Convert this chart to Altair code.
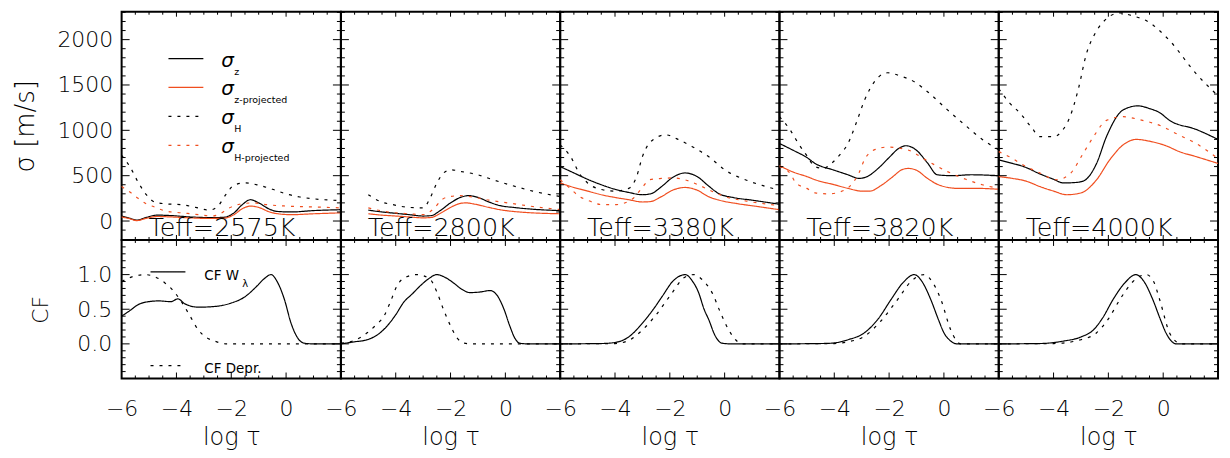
import altair as alt
import pandas as pd

FONT = "DejaVu Sans"
RED = "#f04e1f"

teff_labels = ["Teff=2575K", "Teff=2800K", "Teff=3380K", "Teff=3820K", "Teff=4000K"]

# ---------------- sigma curves (log tau, m/s) ----------------
# Teff = 2575 K
sz_2575_x = [-6, -5.7, -5.45, -5.1, -4.7, -4.2, -3.5, -2.8, -2.3, -1.9, -1.6, -1.3, -1.0, -0.6, -0.3, 0.2, 1.0, 2.0]
sz_2575_y = [55, 30, 10, 40, 65, 60, 45, 38, 40, 90, 180, 235, 200, 130, 105, 100, 115, 125]
szp_2575_x = [-6, -5.7, -5.45, -5.1, -4.7, -4.2, -3.5, -2.8, -2.3, -1.9, -1.6, -1.3, -1.0, -0.6, -0.3, 0.2, 1.0, 2.0]
szp_2575_y = [45, 25, 5, 30, 50, 45, 35, 28, 30, 70, 135, 165, 150, 100, 80, 70, 80, 90]
sh_2575_x = [-6, -5.7, -5.4, -5.1, -4.8, -4.4, -3.8, -3.3, -2.8, -2.5, -2.2, -1.9, -1.5, -1.0, -0.5, 0.0, 0.5, 1.0, 2.0]
sh_2575_y = [725, 600, 430, 290, 210, 190, 180, 150, 120, 160, 290, 395, 420, 395, 350, 300, 265, 245, 225]
shp_2575_x = [-6, -5.7, -5.4, -5.1, -4.8, -4.4, -3.8, -3.2, -2.7, -2.4, -2.1, -1.7, -1.2, -0.7, 0.0, 1.0, 2.0]
shp_2575_y = [380, 320, 250, 190, 155, 110, 90, 70, 55, 80, 140, 185, 200, 180, 165, 155, 145]

# Teff = 2800 K
sz_2800_x = [-5, -4.5, -4, -3.5, -3.0, -2.7, -2.4, -2.0, -1.6, -1.35, -1.0, -0.6, -0.2, 0.3, 1.0, 2.0]
sz_2800_y = [120, 100, 85, 70, 55, 60, 110, 200, 265, 280, 260, 210, 170, 150, 130, 115]
szp_2800_x = [-5, -4.5, -4, -3.5, -3.0, -2.7, -2.4, -2.0, -1.7, -1.45, -1.1, -0.6, -0.2, 0.5, 2.0]
szp_2800_y = [80, 65, 55, 45, 35, 40, 80, 150, 190, 200, 185, 150, 125, 100, 80]
sh_2800_x = [-5, -4.6, -4.1, -3.5, -3.0, -2.75, -2.5, -2.25, -2.0, -1.6, -1.0, -0.5, 0.15, 1.0, 2.0]
sh_2800_y = [290, 220, 180, 150, 145, 250, 420, 530, 565, 545, 510, 460, 400, 330, 270]
shp_2800_x = [-5, -4.5, -4, -3.5, -3.0, -2.6, -2.3, -2.0, -1.65, -1.2, -0.6, 0.2, 1.0, 2.0]
shp_2800_y = [145, 110, 90, 80, 70, 140, 240, 270, 280, 265, 230, 195, 160, 125]

# Teff = 3380 K
sz_3380_x = [-6, -5.5, -5, -4.5, -4, -3.5, -3.0, -2.7, -2.3, -1.9, -1.45, -1.0, -0.6, -0.2, 0.3, 1.0, 2.0]
sz_3380_y = [600, 530, 460, 400, 350, 315, 290, 300, 380, 480, 530, 490, 390, 300, 260, 230, 185]
szp_3380_x = [-6, -5.5, -5, -4.5, -4, -3.5, -3.0, -2.7, -2.3, -1.9, -1.45, -1.0, -0.6, -0.2, 0.5, 1.2, 2.0]
szp_3380_y = [420, 370, 330, 290, 260, 235, 210, 215, 270, 340, 370, 340, 270, 230, 190, 160, 125]
sh_3380_x = [-6, -5.6, -5.3, -5.0, -4.45, -4.0, -3.5, -3.2, -3.0, -2.6, -2.15, -1.7, -1.18, -0.5, 0.0, 0.8, 1.4, 2.0]
sh_3380_y = [840, 700, 525, 420, 345, 330, 360, 500, 710, 900, 950, 900, 820, 690, 565, 450, 390, 340]
shp_3380_x = [-6, -5.6, -5.3, -5.0, -4.45, -4.0, -3.4, -3.0, -2.75, -2.3, -1.9, -1.4, -0.9, -0.4, 0.0, 0.8, 2.0]
shp_3380_y = [455, 350, 270, 230, 180, 180, 235, 370, 455, 470, 475, 450, 390, 320, 270, 220, 170]

# Teff = 3820 K
sz_3820_x = [-6, -5.5, -5, -4.7, -4.0, -3.5, -3.1, -2.8, -2.4, -2.0, -1.65, -1.38, -1.0, -0.6, -0.24, 0.3, 1.0, 2.0]
sz_3820_y = [855, 780, 700, 635, 560, 510, 470, 490, 580, 700, 800, 830, 780, 640, 510, 500, 510, 500]
szp_3820_x = [-6, -5.5, -5, -4.7, -4.0, -3.5, -3.0, -2.7, -2.3, -1.9, -1.5, -1.3, -1.0, -0.6, -0.2, 0.5, 1.2, 2.0]
szp_3820_y = [610, 540, 490, 455, 400, 360, 330, 330, 390, 480, 570, 580, 560, 470, 400, 360, 360, 350]
sh_3820_x = [-6, -5.6, -5.3, -5.0, -4.7, -4.4, -4.1, -3.8, -3.5, -3.2, -2.9, -2.5, -2.05, -1.6, -1.08, -0.5, 0.13, 0.8, 1.4, 2.0]
sh_3820_y = [1150, 1000, 850, 720, 600, 580, 635, 730, 855, 1080, 1330, 1550, 1635, 1600, 1535, 1400, 1225, 1050, 900, 785]
shp_3820_x = [-6, -5.6, -5.4, -5.0, -4.7, -4.2, -3.8, -3.38, -3.1, -2.9, -2.5, -2.05, -1.33, -0.7, 0.13, 0.8, 1.4, 2.0]
shp_3820_y = [600, 520, 420, 360, 310, 300, 320, 400, 530, 675, 790, 815, 785, 680, 545, 460, 400, 360]

# Teff = 4000 K
sz_4000_x = [-6, -5.5, -5.09, -4.5, -4.0, -3.64, -3.2, -2.92, -2.43, -2.07, -1.46, -0.92, -0.5, -0.13, 0.23, 1.2, 2.0]
sz_4000_y = [675, 635, 600, 520, 460, 420, 425, 440, 635, 930, 1225, 1270, 1240, 1195, 1110, 1010, 900]
szp_4000_x = [-6, -5.5, -5.0, -4.5, -4.0, -3.52, -3.0, -2.43, -1.95, -1.46, -0.98, -0.5, 0.1, 0.59, 1.2, 2.0]
szp_4000_y = [490, 470, 440, 380, 330, 290, 310, 455, 675, 840, 900, 880, 830, 765, 710, 635]
sh_4000_x = [-6, -5.6, -5.21, -4.8, -4.49, -4.0, -3.7, -3.4, -3.1, -2.8, -2.5, -2.19, -1.58, -1.1, -0.62, 0.23, 1.2, 2.0]
sh_4000_y = [1460, 1300, 1185, 1030, 930, 930, 990, 1150, 1450, 1845, 2060, 2195, 2295, 2260, 2210, 1990, 1625, 1380]
shp_4000_x = [-6, -5.5, -5.21, -4.5, -3.88, -3.4, -2.92, -2.5, -2.07, -1.46, -0.9, -0.01, 0.5, 1.2, 2.0]
shp_4000_y = [765, 690, 635, 530, 455, 520, 745, 950, 1110, 1150, 1120, 1040, 960, 855, 690]

# ---------------- contribution functions ----------------
cfw_2575_x = [-6, -5.7, -5.38, -5.0, -4.66, -4.2, -3.95, -3.7, -3.2, -2.6, -2.0, -1.5, -1.1, -0.8, -0.55, -0.3, -0.06, 0.18, 0.4, 0.66, 1.0, 2.0]
cfw_2575_y = [0.40, 0.48, 0.57, 0.61, 0.62, 0.61, 0.65, 0.58, 0.53, 0.54, 0.59, 0.68, 0.82, 0.94, 1.0, 0.88, 0.64, 0.30, 0.10, 0.01, 0.0, 0.0]
cfd_2575_x = [-6, -5.6, -5.14, -4.8, -4.42, -4.1, -3.82, -3.5, -3.2, -2.9, -2.6, -2.2, 2.0]
cfd_2575_y = [0.90, 0.97, 1.0, 0.97, 0.88, 0.76, 0.61, 0.40, 0.20, 0.09, 0.04, 0.0, 0.0]

cfw_2800_x = [-6, -5.5, -5.04, -4.6, -4.31, -4.0, -3.71, -3.4, -3.1, -2.8, -2.5, -2.2, -1.89, -1.6, -1.29, -0.9, -0.56, -0.3, -0.05, 0.16, 0.35, 0.52, 0.8, 2.0]
cfw_2800_y = [0.0, 0.03, 0.06, 0.15, 0.26, 0.42, 0.6, 0.72, 0.84, 0.94, 1.0, 0.96, 0.88, 0.79, 0.74, 0.75, 0.77, 0.70, 0.50, 0.26, 0.08, 0.01, 0.0, 0.0]
cfd_2800_x = [-6, -5.5, -5.04, -4.7, -4.43, -4.2, -3.95, -3.6, -3.22, -2.74, -2.5, -2.26, -2.0, -1.77, -1.5, -1.3, 2.0]
cfd_2800_y = [0.01, 0.05, 0.16, 0.28, 0.40, 0.60, 0.84, 0.97, 1.0, 0.93, 0.75, 0.50, 0.26, 0.09, 0.01, 0.0, 0.0]

cfw_3380_x = [-6, -4.5, -4.0, -3.5, -3.0, -2.6, -2.27, -1.9, -1.43, -1.2, -0.95, -0.75, -0.58, -0.35, -0.1, 0.2, 2.0]
cfw_3380_y = [0.0, 0.005, 0.02, 0.1, 0.3, 0.5, 0.69, 0.9, 1.0, 0.92, 0.74, 0.5, 0.35, 0.12, 0.01, 0.0, 0.0]
cfd_3380_x = [-6, -4.0, -3.5, -3.0, -2.5, -1.91, -1.5, -1.12, -0.8, -0.46, -0.15, 0.15, 0.4, 0.63, 2.0]
cfd_3380_y = [0.0, 0.005, 0.05, 0.2, 0.42, 0.74, 0.95, 1.0, 0.92, 0.74, 0.45, 0.2, 0.06, 0.0, 0.0]

cfw_3820_x = [-6, -4.5, -4.1, -3.5, -2.9, -2.4, -1.93, -1.5, -1.08, -0.8, -0.48, -0.2, 0.0, 0.25, 0.49, 2.0]
cfw_3820_y = [0.0, 0.005, 0.01, 0.06, 0.16, 0.36, 0.64, 0.88, 1.0, 0.9, 0.64, 0.35, 0.16, 0.04, 0.0, 0.0]
cfd_3820_x = [-6, -4.0, -3.5, -2.9, -2.3, -1.69, -1.2, -0.72, -0.4, -0.11, 0.25, 0.45, 0.61, 2.0]
cfd_3820_y = [0.0, 0.005, 0.03, 0.11, 0.33, 0.64, 0.9, 1.0, 0.88, 0.64, 0.2, 0.05, 0.0, 0.0]

cfw_4000_x = [-6, -4.5, -3.64, -3.0, -2.55, -2.2, -1.83, -1.4, -1.0, -0.7, -0.38, -0.1, 0.1, 0.3, 0.47, 2.0]
cfw_4000_y = [0.0, 0.005, 0.04, 0.1, 0.2, 0.38, 0.64, 0.88, 1.0, 0.9, 0.64, 0.35, 0.16, 0.04, 0.0, 0.0]
cfd_4000_x = [-6, -4.0, -3.0, -2.43, -2.0, -1.58, -1.1, -0.62, -0.35, -0.13, 0.23, 0.45, 0.65, 2.0]
cfd_4000_y = [0.0, 0.005, 0.06, 0.16, 0.36, 0.64, 0.9, 1.0, 0.9, 0.64, 0.16, 0.04, 0.0, 0.0]

# ---------------- axes / ticks ----------------
X_DOMAIN = [-6, 2]
SIG_DOMAIN = [-208.8, 2307.7]
CF_DOMAIN = [-0.5, 1.5]
x_label_values = [-6, -4, -2, 0]
x_major = [-4, -2, 0]
x_minor = [-5.5, -5, -4.5, -3.5, -3, -2.5, -1.5, -1, -0.5, 0.5, 1, 1.5]
sig_major = [0, 500, 1000, 1500, 2000]
sig_minor = [-100, 100, 200, 300, 400, 600, 700, 800, 900, 1100, 1200, 1300, 1400,
             1600, 1700, 1800, 1900, 2100, 2200, 2300]
cf_major = [0.0, 0.5, 1.0]
cf_minor = [-0.4, -0.3, -0.2, -0.1, 0.1, 0.2, 0.3, 0.4, 0.6, 0.7, 0.8, 0.9, 1.1, 1.2, 1.3, 1.4]

W = 220
H_TOP = 229
H_BOT = 139

sig_names = ["sz", "szp", "sh", "shp"]
cf_names = ["w", "d"]
all_names = sig_names + cf_names
all_colors = ["black", RED, "black", RED, "black", "black"]
all_dashes = [[1, 0], [1, 0], [3, 6], [3, 6], [1, 0], [3, 6]]
color_scale = alt.Scale(domain=all_names, range=all_colors)
dash_scale = alt.Scale(domain=all_names, range=all_dashes)

top_series = [
    [(sz_2575_x, sz_2575_y), (szp_2575_x, szp_2575_y), (sh_2575_x, sh_2575_y), (shp_2575_x, shp_2575_y)],
    [(sz_2800_x, sz_2800_y), (szp_2800_x, szp_2800_y), (sh_2800_x, sh_2800_y), (shp_2800_x, shp_2800_y)],
    [(sz_3380_x, sz_3380_y), (szp_3380_x, szp_3380_y), (sh_3380_x, sh_3380_y), (shp_3380_x, shp_3380_y)],
    [(sz_3820_x, sz_3820_y), (szp_3820_x, szp_3820_y), (sh_3820_x, sh_3820_y), (shp_3820_x, shp_3820_y)],
    [(sz_4000_x, sz_4000_y), (szp_4000_x, szp_4000_y), (sh_4000_x, sh_4000_y), (shp_4000_x, shp_4000_y)],
]
bot_series = [
    [(cfw_2575_x, cfw_2575_y), (cfd_2575_x, cfd_2575_y)],
    [(cfw_2800_x, cfw_2800_y), (cfd_2800_x, cfd_2800_y)],
    [(cfw_3380_x, cfw_3380_y), (cfd_3380_x, cfd_3380_y)],
    [(cfw_3820_x, cfw_3820_y), (cfd_3820_x, cfd_3820_y)],
    [(cfw_4000_x, cfw_4000_y), (cfd_4000_x, cfd_4000_y)],
]


def make_df(names, series):
    rows = []
    for name, (xs, ys) in zip(names, series):
        for x, y in zip(xs, ys):
            rows.append({"x": x, "y": y, "s": name})
    return pd.DataFrame(rows)


def tick_layers(xscale, yscale, xaxis, yaxis, h, xmaj, xmin, ymaj_vals, ymin_vals, ymaj, ymin):
    layers = []
    for vals, L in [(x_major, xmaj), (x_minor, xmin)]:
        d = pd.DataFrame({"v": vals})
        for y0, y1 in [(h, h - L), (0, L)]:
            layers.append(
                alt.Chart(d).mark_rule(color="black", strokeWidth=1).encode(
                    x=alt.X("v:Q", scale=xscale, axis=xaxis),
                    y=alt.value(y0), y2=alt.value(y1)))
    for vals, L in [(ymaj_vals, ymaj), (ymin_vals, ymin)]:
        d = pd.DataFrame({"v": vals})
        for x0, x1 in [(0, L), (W, W - L)]:
            layers.append(
                alt.Chart(d).mark_rule(color="black", strokeWidth=1).encode(
                    y=alt.Y("v:Q", scale=yscale, axis=yaxis),
                    x=alt.value(x0), x2=alt.value(x1)))
    return layers


def label_text(text, x, y, size, align="left", style="normal", weight="normal"):
    return alt.Chart(pd.DataFrame({"t": [text]})).mark_text(
        align=align, baseline="alphabetic", fontSize=size, font=FONT, color="black",
        fontStyle=style, fontWeight=weight
    ).encode(text="t:N", x=alt.value(x), y=alt.value(y))


def legend_rule(x0, x1, y, color, dash):
    return alt.Chart(pd.DataFrame({"a": [0]})).mark_rule(
        color=color, strokeWidth=1.2, strokeDash=dash
    ).encode(x=alt.value(x0), x2=alt.value(x1), y=alt.value(y))


panels = []
xscale = alt.Scale(domain=X_DOMAIN, nice=False, zero=False)
sigscale = alt.Scale(domain=SIG_DOMAIN, nice=False, zero=False)
cfscale = alt.Scale(domain=CF_DOMAIN, nice=False, zero=False)

for i in range(5):
    df = make_df(sig_names, top_series[i])
    if i == 0:
        yaxis = alt.Axis(values=sig_major, format="d", ticks=False, domain=False, grid=False,
                         labelPadding=9, title="σ [m/s]", titleFontSize=26,
                         titlePadding=18)
    else:
        yaxis = None
    xaxis = None
    lines = alt.Chart(df).mark_line(interpolate="monotone", strokeWidth=1.2).encode(
        x=alt.X("x:Q", scale=xscale, axis=xaxis),
        y=alt.Y("y:Q", scale=sigscale, axis=yaxis),
        color=alt.Color("s:N", scale=color_scale, legend=None),
        strokeDash=alt.StrokeDash("s:N", scale=dash_scale, legend=None),
        detail="s:N",
    )
    layers = [lines] + tick_layers(xscale, sigscale, xaxis, yaxis, H_TOP, 5, 3,
                                   sig_major, sig_minor, 8, 4)
    layers.append(label_text(teff_labels[i], 27, 225, 25.5, weight=300))
    if i == 0:
        leg_y = [47, 76, 105, 134]
        subs = ["z", "z-projected", "H", "H-projected"]
        for k in range(4):
            layers.append(legend_rule(47, 82, leg_y[k], all_colors[k], all_dashes[k]))
            layers.append(label_text("σ", 100, leg_y[k] + 8, 20, style="italic"))
            layers.append(label_text(subs[k], 113, leg_y[k] + 16, 9.5))
    panels.append(alt.layer(*layers).properties(width=W, height=H_TOP))

for i in range(5):
    df = make_df(cf_names, bot_series[i])
    if i == 0:
        yaxis = alt.Axis(values=cf_major, format=".1f", ticks=False, domain=False, grid=False,
                         labelPadding=10, title="CF", titleFontSize=22, titlePadding=24)
    else:
        yaxis = None
    xaxis = alt.Axis(values=x_label_values, ticks=False, domain=False, grid=False,
                     labelFlush=False, labelPadding=20, title="log τ",
                     titleFontSize=24, titlePadding=6)
    lines = alt.Chart(df).mark_line(interpolate="monotone", strokeWidth=1.2).encode(
        x=alt.X("x:Q", scale=xscale, axis=xaxis),
        y=alt.Y("y:Q", scale=cfscale, axis=yaxis),
        color=alt.Color("s:N", scale=color_scale, legend=None),
        strokeDash=alt.StrokeDash("s:N", scale=dash_scale, legend=None),
        detail="s:N",
    )
    layers = [lines] + tick_layers(xscale, cfscale, xaxis, yaxis, H_BOT, 6, 3,
                                   cf_major, cf_minor, 8, 4)
    if i == 0:
        layers.append(legend_rule(29, 64, 32, "black", [1, 0]))
        layers.append(label_text("CF  W", 83, 40, 13.5))
        layers.append(label_text("λ", 121, 47, 10))
        layers.append(legend_rule(29, 60, 126, "black", [3, 6]))
        layers.append(label_text("CF  Depr.", 83, 133, 13.5))
    panels.append(alt.layer(*layers).properties(width=W, height=H_BOT))

chart = alt.concat(*panels, columns=5, spacing=0, bounds="flush").properties(
    padding={"left": 4, "top": 0, "right": 0, "bottom": 0}
).configure_view(
    stroke="black", strokeWidth=2
).configure_axis(
    labelFont=FONT, titleFont=FONT, labelFontSize=22, labelColor="black",
    titleColor="black", labelFontWeight=300, titleFontWeight=300
)

chart.save("out.html", embed_options={"renderer": "svg", "actions": False})
